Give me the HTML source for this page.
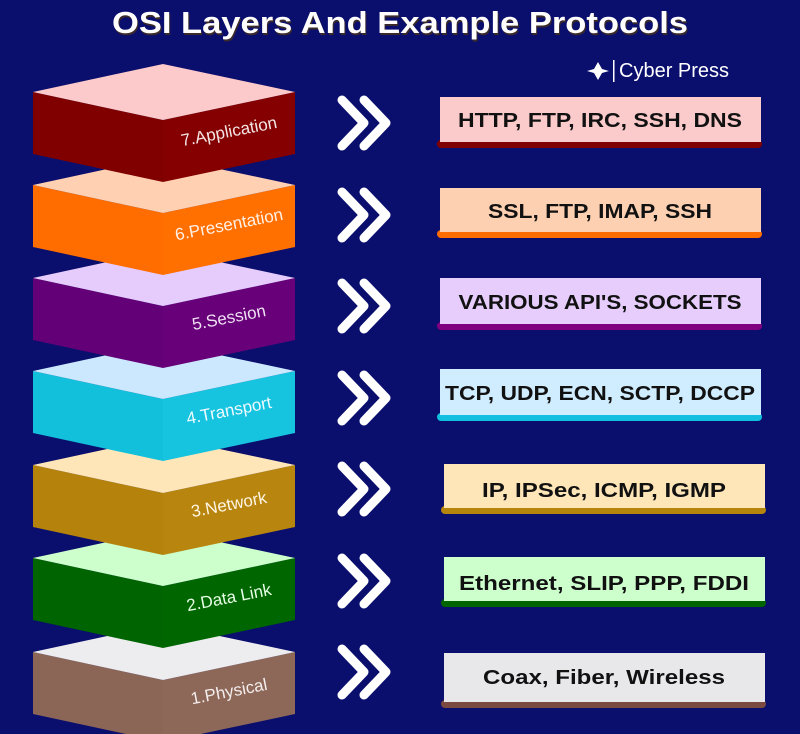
<!DOCTYPE html>
<html><head><meta charset="utf-8"><style>
html,body{margin:0;padding:0;background:#0a0e6c;}
svg{display:block;}
</style></head><body>
<svg width="800" height="734" viewBox="0 0 800 734" xmlns="http://www.w3.org/2000/svg">
<rect width="800" height="734" fill="#0a0e6c"/>
<text x="401" y="35" text-anchor="middle" font-family="Liberation Sans, sans-serif" font-weight="bold" font-size="31" fill="#3a2a2a" textLength="576" lengthAdjust="spacingAndGlyphs">OSI Layers And Example Protocols</text>
<text x="400" y="33" text-anchor="middle" font-family="Liberation Sans, sans-serif" font-weight="bold" font-size="31" fill="#ffffff" textLength="576" lengthAdjust="spacingAndGlyphs">OSI Layers And Example Protocols</text>
<polygon points="598,62 602,69 609,71 602,73 598,80 594,73 587,71 594,69" fill="#fff"/>
<rect x="613" y="60" width="1.5" height="22" fill="#fff"/>
<text x="619" y="77" font-family="Liberation Sans, sans-serif" font-size="20" fill="#fff">Cyber Press</text>

<g font-family="Liberation Sans, sans-serif">
<!-- blocks drawn bottom-up so upper blocks overlap lower ones -->
<g>
<polygon points="33,652 163,680 163,742 33,714" fill="#8b6556"/>
<polygon points="163,680 295,652 295,714 163,742" fill="#8d6758"/>
<polygon points="163,624 295,652 163,680 33,652" fill="#ededf0"/>
<text transform="translate(230,697) rotate(-11)" text-anchor="middle" font-size="17" fill="#f4eeee">1.Physical</text>
</g>
<g>
<polygon points="33,558 163,586 163,648 33,620" fill="#006400"/>
<polygon points="163,586 295,558 295,620 163,648" fill="#006600"/>
<polygon points="163,530 295,558 163,586 33,558" fill="#ccffcc"/>
<text transform="translate(230,603) rotate(-11)" text-anchor="middle" font-size="17" fill="#e6ffe6">2.Data Link</text>
</g>
<g>
<polygon points="33,465 163,493 163,555 33,527" fill="#b5830c"/>
<polygon points="163,493 295,465 295,527 163,555" fill="#b8860e"/>
<polygon points="163,437 295,465 163,493 33,465" fill="#ffe6b8"/>
<text transform="translate(230,510) rotate(-11)" text-anchor="middle" font-size="17" fill="#fff6e6">3.Network</text>
</g>
<g>
<polygon points="33,371 163,399 163,461 33,433" fill="#12c0dc"/>
<polygon points="163,399 295,371 295,433 163,461" fill="#16c4e0"/>
<polygon points="163,343 295,371 163,399 33,371" fill="#cce8ff"/>
<text transform="translate(230,416) rotate(-11)" text-anchor="middle" font-size="17" fill="#eefaff">4.Transport</text>
</g>
<g>
<polygon points="33,278 163,306 163,368 33,340" fill="#640077"/>
<polygon points="163,306 295,278 295,340 163,368" fill="#680079"/>
<polygon points="163,250 295,278 163,306 33,278" fill="#e6ccfc"/>
<text transform="translate(230,323) rotate(-11)" text-anchor="middle" font-size="17" fill="#f0e0f4">5.Session</text>
</g>
<g>
<polygon points="33,185 163,213 163,275 33,247" fill="#ff6d00"/>
<polygon points="163,213 295,185 295,247 163,275" fill="#ff7000"/>
<polygon points="163,157 295,185 163,213 33,185" fill="#ffd0b2"/>
<text transform="translate(230,230) rotate(-11)" text-anchor="middle" font-size="17" fill="#fff0e6">6.Presentation</text>
</g>
<g>
<polygon points="33,92 163,120 163,182 33,154" fill="#800000"/>
<polygon points="163,120 295,92 295,154 163,182" fill="#850000"/>
<polygon points="163,64 295,92 163,120 33,92" fill="#fccaca"/>
<text transform="translate(230,137) rotate(-11)" text-anchor="middle" font-size="17" fill="#f4e6e6">7.Application</text>
</g>

<!-- chevrons -->
<g fill="none" stroke="#fff" stroke-width="9" stroke-linecap="round" stroke-linejoin="round">
<path d="M342,100 L364,123 L342,146 M364,100 L386,123 L364,146"/>
<path d="M342,192 L364,215 L342,238 M364,192 L386,215 L364,238"/>
<path d="M342,283 L364,306 L342,329 M364,283 L386,306 L364,329"/>
<path d="M342,375 L364,398 L342,421 M364,375 L386,398 L364,421"/>
<path d="M342,466 L364,489 L342,512 M364,466 L386,489 L364,512"/>
<path d="M342,558 L364,581 L342,604 M364,558 L386,581 L364,604"/>
<path d="M342,649 L364,672 L342,695 M364,649 L386,672 L364,695"/>
</g>

<!-- protocol boxes -->
<g font-weight="bold" font-size="20" fill="#111" text-anchor="middle">
<rect x="437" y="140" width="325" height="8" rx="4" fill="#800000"/>
<rect x="440" y="97" width="321" height="45" fill="#fbcaca"/>
<text x="600" y="127" textLength="284" lengthAdjust="spacingAndGlyphs">HTTP, FTP, IRC, SSH, DNS</text>

<rect x="437" y="230" width="325" height="8" rx="4" fill="#ff6d00"/>
<rect x="440" y="188" width="321" height="44" fill="#fdd0b2"/>
<text x="600" y="218" textLength="224" lengthAdjust="spacingAndGlyphs">SSL, FTP, IMAP, SSH</text>

<rect x="437" y="322" width="325" height="8" rx="4" fill="#800080"/>
<rect x="440" y="278" width="321" height="46" fill="#e6cdfc"/>
<text x="600" y="309" textLength="283" lengthAdjust="spacingAndGlyphs">VARIOUS API'S, SOCKETS</text>

<rect x="437" y="413" width="325" height="8" rx="4" fill="#12bfdf"/>
<rect x="440" y="369" width="321" height="46" fill="#d0ecff"/>
<text x="600" y="400" textLength="310" lengthAdjust="spacingAndGlyphs">TCP, UDP, ECN, SCTP, DCCP</text>

<rect x="441" y="506" width="325" height="8" rx="4" fill="#b5860b"/>
<rect x="444" y="464" width="321" height="44" fill="#ffe6b8"/>
<text x="604" y="497" textLength="244" lengthAdjust="spacingAndGlyphs">IP, IPSec, ICMP, IGMP</text>

<rect x="441" y="599" width="325" height="8" rx="4" fill="#006400"/>
<rect x="444" y="557" width="321" height="44" fill="#ccffcc"/>
<text x="604" y="590" textLength="290" lengthAdjust="spacingAndGlyphs">Ethernet, SLIP, PPP, FDDI</text>

<rect x="441" y="700" width="325" height="8" rx="4" fill="#7a4a40"/>
<rect x="444" y="653" width="321" height="49" fill="#e8e8ea"/>
<text x="604" y="684" textLength="242" lengthAdjust="spacingAndGlyphs">Coax, Fiber, Wireless</text>
</g>
</g>
</svg>
</body></html>
